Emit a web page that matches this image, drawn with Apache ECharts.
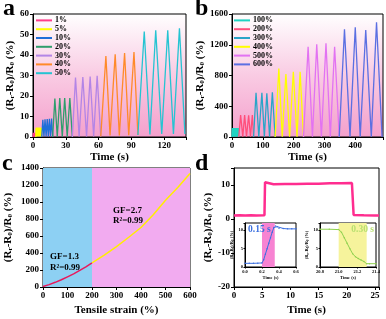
<!DOCTYPE html>
<html><head><meta charset="utf-8">
<script src="https://cdn.jsdelivr.net/npm/echarts@6/dist/echarts.min.js"></script>
<style>html,body{margin:0;padding:0;background:#fff}#c{width:386px;height:319px}</style>
</head><body><div id="c"></div>
<script>
const FONT = '"Liberation Serif","Times New Roman",serif';

// ---------- Panel a : strain 1%..50% ----------
const aNames = ['1%','5%','10%','20%','30%','40%','50%'];
const aColors = ['#ff3d8b','#ffff00','#1e6fd8','#2f9e6c','#b385e6','#ff8a2a','#25c4d2'];
const a1  = [[0,0],[0.3,2.1],[0.6,0.2],[0.9,2.0],[1.2,0.2],[1.5,2.1],[1.8,0.2],[2.1,2.0],[2.4,0.1]];
const a5  = [[2.5,0],[2.8,4.5],[3.1,0.3],[3.4,4.6],[3.7,0.3],[4.0,4.5],[4.3,0.3],[4.6,4.6],[4.9,0.3],[5.2,4.5],[5.5,0.3],[5.8,4.6],[6.1,0.3],[6.4,4.5],[6.7,0.3],[7.0,4.6],[7.3,0.3],[7.6,4.5],[7.9,0]];
const a10 = [[8,0],[9,8.4],[10,0.3],[11,8.6],[12,0.3],[13,8.8],[14,0.3],[15,8.9],[16,0.3],[17,9.0],[18,0.2]];
const a20 = [[18,0],[20,18.8],[22.2,0.2],[24.5,19],[26.8,0.2],[29,19],[31.3,0.2],[33.7,19],[36,0]];
const a30 = [[36,0],[38.9,29],[42.2,0.3],[45.6,29.3],[49,0.3],[52.3,29.5],[55.5,0.3],[58.7,29.8],[62,0.3]];
const a40 = [[62,0.3],[66.7,39.5],[70.5,0.8],[75.2,40.3],[79,0.8],[83.8,41],[87.6,0.9],[92.4,41.5],[96,1]];
const a50 = [[96,1],[101.8,51.5],[107,1.2],[112.3,52],[117.8,1.5],[123.3,52],[128.5,1.5],[134,53],[139,1.5]];
const aData = [a1,a5,a10,a20,a30,a40,a50];
const aXTicks = [0,30,60,90,120];

// ---------- Panel b : strain 100%..600% ----------
const bNames = ['100%','200%','300%','400%','500%','600%'];
const bColors = ['#1fd3c2','#ff4f7b','#2aa5c8','#ffff00','#e272f2','#5b6fe2'];
const b100 = [[0,0],[1,117],[2,5],[3,118],[4,5],[5,117],[6,5],[7,118],[8,5],[9,117],[10,5],[11,118],[12,5],[13,117],[14,5],[15,118],[16,5],[17,117],[18,5],[19,118],[20,5],[21,117],[22,0]];
const b200 = [[22,0],[28,285],[35,5],[41,285],[47,5],[54,283],[60,5],[66,285],[70,0]];
const b300 = [[70,0],[78,575],[87,5],[97,575],[105,5],[113,570],[122,5],[131,580],[140,0]];
const b400 = [[140,0],[152,890],[163,5],[175,818],[187,5],[199,848],[211,5],[221,848],[232,0]];
const b500 = [[232,0],[247,1175],[261,5],[275,1205],[290,5],[305,1218],[319,5],[333,1175],[348,0]];
const b600 = [[348,0],[365,1400],[383,5],[400,1427],[416,5],[434,1391],[452,5],[469,1491],[487,0]];
const bData = [b100,b200,b300,b400,b500,b600];

// ---------- Panel c : GF ----------
const cLow  = [[0,5],[25,28],[50,55],[75,85],[100,120],[125,155],[150,195],[175,238],[200,285]];
const cHigh = [[200,285],[250,375],[300,475],[350,585],[400,700],[450,850],[500,1020],[550,1170],[600,1335]];

// ---------- Panel d : response ----------
const dMain = [[0,1.0],[1,1.1],[2,1.0],[3,1.1],[4,1.0],[5.4,1.1],[5.5,10.8],[5.7,10.4],[7,10.2],[9,10.3],[11,10.3],[13,10.4],[15,10.4],[17,10.5],[19,10.5],[20.9,10.6],[21.0,10.5],[21.2,1.2],[21.4,1.0],[23,1.1],[25,1.0],[25.7,1.0]];
const dIn1 = [[0,1],[0.05,1],[0.1,1],[0.15,1.05],[0.2,1.1],[0.22,2],[0.24,3.5],[0.26,5],[0.28,6.5],[0.3,8],[0.32,9.5],[0.34,10.8],[0.36,11.2],[0.38,11],[0.4,10.6],[0.45,10.5],[0.5,10.4],[0.55,10.4],[0.6,10.4]];
const dIn2 = [[20.8,10.3],[20.9,10.3],[21.0,10.2],[21.03,9.5],[21.06,8],[21.09,6.5],[21.12,5],[21.15,3.6],[21.18,2.8],[21.21,2.3],[21.24,1.9],[21.27,1.5],[21.3,0.9],[21.33,0.9],[21.4,0.9]];

const yName = '(R{s|r}-R{s|0})/R{s|0} (%)';
function nameStyle(fs){
  return {fontFamily:FONT,fontWeight:'bold',fontSize:fs,color:'#000',
    rich:{s:{fontFamily:FONT,fontWeight:'bold',fontSize:fs*0.65,color:'#000',verticalAlign:'bottom',padding:[fs*0.3,0,0,0]}}};
}
function axis(gi, o){
  const fs = o.fs || 9;
  const hideExtra = o.labels;
  return Object.assign({
    type:'value', gridIndex:gi, min:o.min, max:o.max, interval:o.interval,
    axisLine:{show:true,onZero:false,lineStyle:{color:'#000',width:1}},
    axisTick:{show:true,length:o.tl||3,lineStyle:{color:'#000'}},
    splitLine:{show:false},
    axisLabel:{fontFamily:FONT,fontWeight:'bold',fontSize:fs,color:'#000',margin:o.margin||4,
      formatter:(v)=>{ if(hideExtra && hideExtra.indexOf(+v.toFixed(3))<0) return ''; return o.fmt?o.fmt(v):String(v);} },
    name:o.name||'', nameLocation:'middle', nameGap:o.gap||10, nameTextStyle:nameStyle(o.nfs||11)
  }, o.extra||{});
}

const grids = [
  {left:33,top:14,width:153,height:123},
  {left:232,top:14,width:152,height:123},
  {left:43,top:168,width:147,height:119},
  {left:234,top:168,width:145,height:119},
  {left:245,top:223,width:51,height:44},
  {left:320,top:223,width:56,height:44}
];
const pinkGrad = {type:'linear',x:0,y:0,x2:0,y2:1,colorStops:[{offset:0,color:'#ffffff'},{offset:0.5,color:'#f9cbe3'},{offset:1,color:'#f4a0cc'}]};
grids.forEach((g,i)=>{
  g.show=true; g.borderColor='#000'; g.borderWidth=1;
  g.backgroundColor = (i<2)?pinkGrad:'#ffffff';
  g.containLabel=false;
});

const xAxes = [
  axis(0,{min:0,max:140,interval:30,labels:aXTicks,name:'Time (s)',gap:15,nfs:11}),
  axis(1,{min:0,max:490,interval:100,labels:[0,100,200,300,400],name:'Time (s)',gap:15,nfs:11}),
  axis(2,{min:0,max:600,interval:100,name:'Tensile strain (%)',gap:18,nfs:11}),
  axis(3,{min:0,max:25.7,interval:5,labels:[0,5,10,15,20,25],name:'Time (s)',gap:18,nfs:11}),
  axis(4,{min:0,max:0.6,interval:0.2,fs:4.5,margin:2,tl:1.5,fmt:v=>v.toFixed(1),name:'Time (s)',gap:6,nfs:4.5}),
  axis(5,{min:20.8,max:21.4,interval:0.2,fs:4.5,margin:2,tl:1.5,fmt:v=>v.toFixed(1),name:'Time (s)',gap:6,nfs:4.5})
];
const yAxes = [
  axis(0,{min:0,max:60,interval:10,name:yName,gap:16,nfs:11}),
  axis(1,{min:0,max:1600,interval:400,name:yName,gap:24,nfs:11}),
  axis(2,{min:0,max:1400,interval:200,name:yName,gap:29,nfs:11}),
  axis(3,{min:-20,max:15,interval:10,labels:[-20,-10,0,10],name:yName,gap:13,nfs:11}),
  axis(4,{min:0,max:12,interval:5,labels:[0,5,10],fs:4.5,margin:2,tl:1.5,name:yName,gap:6,nfs:4.5}),
  axis(5,{min:0,max:12,interval:5,labels:[0,5,10],fs:4.5,margin:2,tl:1.5,name:yName,gap:6,nfs:4.5})
];

const series = [];
aData.forEach((d,i)=>series.push({name:aNames[i],type:'line',xAxisIndex:0,yAxisIndex:0,data:d,showSymbol:false,color:aColors[i],lineStyle:{width:1.3,color:aColors[i]}}));
bData.forEach((d,i)=>series.push({name:bNames[i],type:'line',xAxisIndex:1,yAxisIndex:1,data:d,showSymbol:false,color:bColors[i],lineStyle:{width:1.3,color:bColors[i]}}));
series.push({name:'cLow',type:'line',xAxisIndex:2,yAxisIndex:2,data:cLow,showSymbol:false,lineStyle:{width:1.5,color:'#e8195c'},
  markArea:{silent:true,data:[[{xAxis:0,itemStyle:{color:'#8dd0f3'}},{xAxis:200}],[{xAxis:200,itemStyle:{color:'#f2abf0'}},{xAxis:600}]]}});
series.push({name:'cHigh',type:'line',xAxisIndex:2,yAxisIndex:2,data:cHigh,showSymbol:false,lineStyle:{width:1.5,color:'#ffee00'}});
series.push({name:'dMain',type:'line',xAxisIndex:3,yAxisIndex:3,data:dMain,showSymbol:false,lineStyle:{width:2.5,color:'#ff2d8f'},z:1});
series.push({name:'dIn1',type:'line',xAxisIndex:4,yAxisIndex:4,data:dIn1,showSymbol:true,symbol:'circle',symbolSize:1.5,itemStyle:{color:'#3b6fe0'},lineStyle:{width:1,color:'#3b6fe0'},z:5,
  markArea:{silent:true,data:[[{xAxis:0.2,itemStyle:{color:'#f783d2'}},{xAxis:0.35}]]}});
series.push({name:'dIn2',type:'line',xAxisIndex:5,yAxisIndex:5,data:dIn2,showSymbol:true,symbol:'circle',symbolSize:1.5,itemStyle:{color:'#8fd14f'},lineStyle:{width:1,color:'#8fd14f'},z:5,
  markArea:{silent:true,data:[[{xAxis:21.0,itemStyle:{color:'#f6f39c'}},{xAxis:21.3}]]}});

const legendBase = {orient:'vertical',icon:'rect',itemWidth:16,itemHeight:2,itemGap:0,
  textStyle:{fontFamily:FONT,fontWeight:'bold',fontSize:8,color:'#000',lineHeight:8.8,padding:[0,0,0,-2]},padding:0,selectedMode:false};

function txt(x,y,t,opts){ return {type:'text',x:x,y:y,z:100,style:Object.assign({text:t,fontFamily:FONT,fontWeight:'bold',fontSize:9,fill:'#000',verticalAlign:'middle'},opts||{})}; }

const chart = echarts.init(document.getElementById('c'),null,{renderer:'canvas'});
chart.setOption({
  animation:false,
  backgroundColor:'#fff',
  grid:grids, xAxis:xAxes, yAxis:yAxes, series:series,
  legend:[
    Object.assign({},legendBase,{left:36,top:16,data:aNames}),
    Object.assign({},legendBase,{left:234,top:16,data:bNames})
  ],
  graphic:[
    txt(3,-3,'a',{fontSize:24,verticalAlign:'top'}),
    txt(195,-3,'b',{fontSize:24,verticalAlign:'top'}),
    txt(2,152,'c',{fontSize:24,verticalAlign:'top'}),
    txt(195,152,'d',{fontSize:24,verticalAlign:'top'}),
    txt(50,256.7,'GF=1.3'),
    txt(50,267.3,'R²=0.99'),
    txt(113,211,'GF=2.7'),
    txt(113,221,'R²=0.99'),
    txt(248,229.7,'0.15 s',{fill:'#3a6fe0',fontSize:9.5}),
    txt(374,229.7,'0.30 s',{fill:'#b8e070',fontSize:9.5,align:'right'})
  ]
});
</script></body></html>
